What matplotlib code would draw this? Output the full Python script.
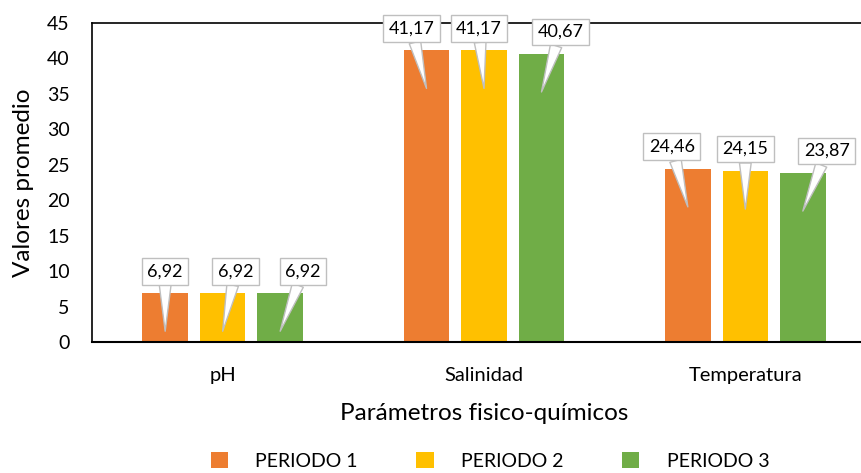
import matplotlib
matplotlib.use("Agg")
import matplotlib.pyplot as plt
import numpy as np

categories = ["pH", "Salinidad", "Temperatura"]
series_names = ["PERIODO 1", "PERIODO 2", "PERIODO 3"]
periodo1 = [6.92, 41.17, 24.46]
periodo2 = [6.92, 41.17, 24.15]
periodo3 = [6.92, 40.67, 23.87]
label_texts = [["6,92", "41,17", "24,46"],
               ["6,92", "41,17", "24,15"],
               ["6,92", "40,67", "23,87"]]
yticks = [0, 5, 10, 15, 20, 25, 30, 35, 40, 45]

colors = ["#ED7D31", "#FFC000", "#70AD47"]
# horizontal shift (pixels) of each callout box relative to its bar, [series][category]
callout_dx_px = [[0, -15, -16],
                 [13, -5, 0],
                 [23, 19, 24]]

plt.rcParams['font.family'] = ['Lato', 'DejaVu Sans']

W, H = 861, 473
fig = plt.figure(figsize=(W / 100, H / 100), dpi=100)
ax = fig.add_axes([92 / W, 1 - 342 / H, (876 - 92) / W, (342 - 23) / H])

x = np.arange(len(categories))
width = 0.174
offset = 0.22
data = [periodo1, periodo2, periodo3]
px2pt = 72 / 100

for i, (vals, c, name) in enumerate(zip(data, colors, series_names)):
    xs = x + (i - 1) * offset
    ax.bar(xs, vals, width, color=c, label=name, zorder=2)
    for j, (xx, v) in enumerate(zip(xs, vals)):
        ax.annotate(label_texts[i][j], xy=(xx, v - 5.4), xycoords='data',
                    xytext=(callout_dx_px[i][j] * px2pt, 60 * px2pt),
                    textcoords='offset points', ha='center', va='center',
                    fontsize=13, color='black', zorder=5,
                    bbox=dict(boxstyle='square,pad=0.3', fc='white',
                              ec='#BFBFBF', lw=1.0),
                    arrowprops=dict(arrowstyle='wedge,tail_width=0.65,shrink_factor=0.5',
                                    fc='white', ec='#BFBFBF', lw=1.0,
                                    shrinkA=0, shrinkB=0))

ax.set_xlim(-0.5, 2.5)
ax.set_ylim(0, 45)
ax.set_yticks(yticks)
ax.set_yticklabels([str(t) for t in yticks], fontsize=14)
ax.set_xticks(x)
ax.set_xticklabels(categories, fontsize=14.5)
ax.tick_params(axis='both', length=0)
ax.tick_params(axis='x', pad=18)
ax.tick_params(axis='y', pad=16)
for s in ['left', 'top', 'bottom', 'right']:
    ax.spines[s].set_color('black')
    ax.spines[s].set_linewidth(1.2)
ax.spines['bottom'].set_linewidth(1.5)
ax.set_ylabel("Valores promedio", fontsize=17.5)
ax.set_xlabel("Parámetros fisico-químicos", fontsize=17.5, labelpad=14)
ax.yaxis.set_label_coords(-0.074, 0.5)

handles, labels = ax.get_legend_handles_labels()
fig.legend(handles, labels, loc='center', bbox_to_anchor=(490 / W, 1 - 461 / H),
           ncol=3, frameon=False, fontsize=14, handlelength=0.9, handleheight=0.9,
           handletextpad=1.4, columnspacing=3.0)

fig.savefig("out.png", dpi=100)
